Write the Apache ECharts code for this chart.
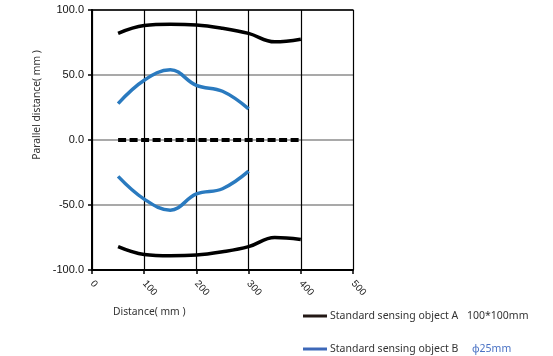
<!DOCTYPE html>
<html>
<head>
<meta charset="utf-8">
<script src="https://cdn.jsdelivr.net/npm/echarts@6/dist/echarts.min.js"></script>
<style>html,body{margin:0;padding:0;background:#fff}#c{width:553px;height:356px}</style>
</head>
<body>
<div id="c"></div>
<script>
var xTicks = [0, 100, 200, 300, 400, 500];
var yTicks = [-100, -50, 0, 50, 100];
var aDist = [50, 100, 150, 200, 250, 300, 350, 400];
var aTop = [82, 88, 89, 88.5, 86, 82, 75.5, 77.5];
var aBottom = [-82, -88, -89, -88.5, -86, -82, -75, -76.5];
var bDist = [50, 100, 150, 200, 250, 300];
var bTop = [28, 46, 54, 42, 37.5, 24];
var bBottom = [-28, -45.5, -54, -41.5, -37.5, -24];
var zeroDist = [50, 400];
var zeroVal = [0, 0];

function pairs(xs, ys) { return xs.map(function (x, i) { return [x, ys[i]]; }); }

var chart = echarts.init(document.getElementById('c'));
var blackCol = '#000000';
var blueCol = '#2a7abf';
chart.setOption({
  animation: false,
  grid: { left: 92, right: 200, top: 10, bottom: 86 },
  xAxis: [{
    type: 'value', min: 0, max: 500, interval: 100,
    axisLine: { show: true, onZero: false, lineStyle: { color: '#000', width: 2 } },
    axisTick: { show: true, length: 4, lineStyle: { color: '#000', width: 1.5 } },
    splitLine: { show: true, lineStyle: { color: '#000', width: 1.2 } },
    axisLabel: { rotate: -48, color: '#222', fontFamily: 'Liberation Sans', fontSize: 10, margin: 12 }
  }, {
    type: 'value', position: 'top', min: 0, max: 500, interval: 100,
    axisLine: { show: true, onZero: false, lineStyle: { color: '#000', width: 1.5 } },
    axisTick: { show: false }, axisLabel: { show: false }, splitLine: { show: false }
  }],
  yAxis: {
    type: 'value', min: -100, max: 100, interval: 50,
    axisLine: { show: true, onZero: false, lineStyle: { color: '#000', width: 2 } },
    axisTick: { show: true, length: 4, lineStyle: { color: '#000', width: 1.5 } },
    splitLine: { show: true, lineStyle: { color: '#8c8c8c', width: 1.5 } },
    axisLabel: { color: '#111', fontFamily: 'Liberation Sans', fontSize: 11, margin: 8,
      formatter: function (v) { return v.toFixed(1); } }
  },
  series: [
    { type: 'line', data: pairs(aDist, aTop), smooth: 0.4, showSymbol: false, lineStyle: { color: blackCol, width: 3.5 } },
    { type: 'line', data: pairs(aDist, aBottom), smooth: 0.4, showSymbol: false, lineStyle: { color: blackCol, width: 3.5 } },
    { type: 'line', data: pairs(zeroDist, zeroVal), showSymbol: false, lineStyle: { color: blackCol, width: 4, type: [8, 3.5] } },
    { type: 'line', data: pairs(bDist, bTop), smooth: 0.4, showSymbol: false, lineStyle: { color: blueCol, width: 3.5 } },
    { type: 'line', data: pairs(bDist, bBottom), smooth: 0.4, showSymbol: false, lineStyle: { color: blueCol, width: 3.5 } }
  ],
  graphic: [
    { type: 'text', x: 37, y: 105, rotation: Math.PI / 2,
      style: { text: 'Parallel distance( mm )', fill: '#333', font: '10.3px "Noto Sans"', align: 'center', verticalAlign: 'middle' } },
    { type: 'text', x: 113, y: 312,
      style: { text: 'Distance( mm )', fill: '#333', font: '10.3px "Noto Sans"', align: 'left', verticalAlign: 'middle' } },
    { type: 'line', shape: { x1: 303, y1: 316, x2: 327, y2: 316 }, style: { stroke: '#231815', lineWidth: 3 } },
    { type: 'text', x: 330, y: 316,
      style: { text: 'Standard sensing object A', fill: '#333', font: '10.5px "Noto Sans"', align: 'left', verticalAlign: 'middle' } },
    { type: 'text', x: 467, y: 316,
      style: { text: '100*100mm', fill: '#333', font: '10.5px "Noto Sans"', align: 'left', verticalAlign: 'middle' } },
    { type: 'line', shape: { x1: 303, y1: 349, x2: 327, y2: 349 }, style: { stroke: '#3d68b8', lineWidth: 3 } },
    { type: 'text', x: 330, y: 349,
      style: { text: 'Standard sensing object B', fill: '#333', font: '10.5px "Noto Sans"', align: 'left', verticalAlign: 'middle' } },
    { type: 'text', x: 472, y: 349,
      style: { text: 'ϕ25mm', fill: '#4a72c4', font: '10.5px "Noto Sans"', align: 'left', verticalAlign: 'middle' } }
  ]
});
</script>
</body>
</html>
